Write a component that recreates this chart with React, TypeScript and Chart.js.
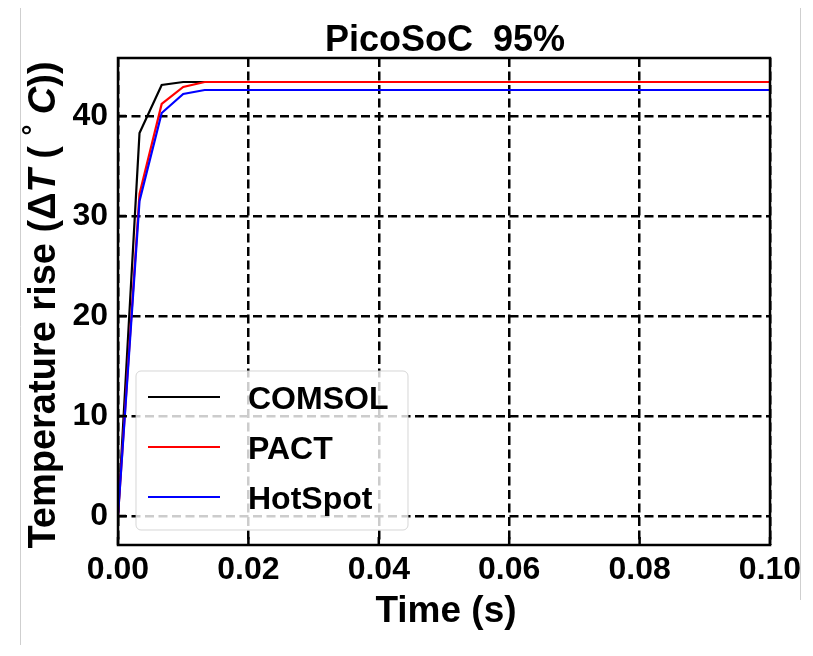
import React, { useEffect, useRef } from "react";
import { Chart, registerables } from "chart.js";

Chart.register(...registerables);

const chartTitle = "PicoSoC  95%";
const xAxisTitle = "Time (s)";
const timeS = [0, 0.0033, 0.0067, 0.01, 0.0133, 0.0167, 0.1];
const comsol = [0, 38.3, 43.1, 43.4, 43.4, 43.4, 43.4];
const pact = [0, 32.2, 41.2, 42.9, 43.4, 43.4, 43.4];
const hotspot = [0, 31.5, 40.3, 42.2, 42.6, 42.6, 42.6];
const seriesNames = ["COMSOL", "PACT", "HotSpot"];
const seriesColors = ["#000000", "#ff0000", "#0000ff"];
const xTicks = [0, 0.02, 0.04, 0.06, 0.08, 0.1];
const yTicks = [0, 10, 20, 30, 40];

const FONT = "'Liberation Sans', Arial, sans-serif";

const decorPlugin = {
  id: "decor",
  afterDraw(chart: any) {
    const { ctx, chartArea: a, scales } = chart;
    ctx.save();
    // page borders (light gray)
    ctx.strokeStyle = "#cfcfcf";
    ctx.lineWidth = 1;
    ctx.beginPath();
    ctx.moveTo(20.5, 8);
    ctx.lineTo(20.5, 645);
    ctx.moveTo(800.5, 8);
    ctx.lineTo(800.5, 600);
    ctx.stroke();

    // frame
    ctx.strokeStyle = "#000";
    ctx.lineWidth = 2.5;
    ctx.strokeRect(a.left, a.top, a.right - a.left, a.bottom - a.top);
    // inward ticks
    ctx.beginPath();
    xTicks.forEach((t) => {
      const x = scales.x.getPixelForValue(t);
      ctx.moveTo(x, a.bottom);
      ctx.lineTo(x, a.bottom - 8);
    });
    yTicks.forEach((t) => {
      const y = scales.y.getPixelForValue(t);
      ctx.moveTo(a.left, y);
      ctx.lineTo(a.left + 8, y);
    });
    ctx.stroke();

    // legend
    const lx = 136, ly = 371, lw = 272, lh = 159, r = 5;
    ctx.beginPath();
    ctx.moveTo(lx + r, ly);
    ctx.arcTo(lx + lw, ly, lx + lw, ly + lh, r);
    ctx.arcTo(lx + lw, ly + lh, lx, ly + lh, r);
    ctx.arcTo(lx, ly + lh, lx, ly, r);
    ctx.arcTo(lx, ly, lx + lw, ly, r);
    ctx.closePath();
    ctx.fillStyle = "rgba(255,255,255,0.8)";
    ctx.fill();
    ctx.strokeStyle = "rgba(204,204,204,0.8)";
    ctx.lineWidth = 1;
    ctx.stroke();
    seriesNames.forEach((name, i) => {
      const y = 397 + i * 50;
      ctx.strokeStyle = seriesColors[i];
      ctx.lineWidth = 2.2;
      ctx.beginPath();
      ctx.moveTo(148, y);
      ctx.lineTo(220, y);
      ctx.stroke();
      ctx.fillStyle = "#000";
      ctx.font = `bold 32px ${FONT}`;
      ctx.textAlign = "left";
      ctx.textBaseline = "alphabetic";
      ctx.fillText(name, 248, y + 12);
    });

    // title
    ctx.fillStyle = "#000";
    ctx.textAlign = "center";
    ctx.textBaseline = "alphabetic";
    ctx.font = `bold 36px ${FONT}`;
    ctx.fillText(chartTitle, 445, 51);
    // x label
    ctx.font = `bold 37px ${FONT}`;
    ctx.fillText(xAxisTitle, 446, 622);

    // y label (mixed fonts), rotated
    const segs = [
      { t: "Temperature rise (", f: `bold 38px ${FONT}`, dy: 0 },
      { t: "\u0394", f: `bold 38px ${FONT}`, dy: 0 },
      { t: "T", f: `italic bold 38px ${FONT}`, dy: 0 },
      { t: " ( ", f: `bold 38px ${FONT}`, dy: 0 },
      { t: "\u00b0", f: `bold 27px ${FONT}`, dy: -13 },
      { t: " ", f: `bold 38px ${FONT}`, dy: 0 },
      { t: "C", f: `italic bold 38px ${FONT}`, dy: 0 },
      { t: "))", f: `bold 38px ${FONT}`, dy: 0 },
    ];
    let total = 0;
    const widths = segs.map((s) => {
      ctx.font = s.f;
      const w = ctx.measureText(s.t).width;
      total += w;
      return w;
    });
    ctx.translate(55, 305);
    ctx.rotate(-Math.PI / 2);
    ctx.textAlign = "left";
    let cx = -total / 2;
    segs.forEach((s, i) => {
      ctx.font = s.f;
      ctx.fillText(s.t, cx, s.dy);
      cx += widths[i];
    });
    ctx.restore();
  },
};

export default function App() {
  const ref = useRef<HTMLCanvasElement>(null);
  useEffect(() => {
    if (!ref.current) return;
    const mk = (ys: number[]) => timeS.map((x, i) => ({ x, y: ys[i] }));
    const all = [comsol, pact, hotspot];
    const chart = new Chart(ref.current, {
      type: "line",
      data: {
        datasets: all.map((ys, i) => ({
          label: seriesNames[i],
          data: mk(ys),
          borderColor: seriesColors[i],
          backgroundColor: seriesColors[i],
          borderWidth: 2.2,
          pointRadius: 0,
          tension: 0,
          fill: false,
          order: 3 - i,
        })),
      },
      options: {
        responsive: false,
        animation: false,
        devicePixelRatio: 1,
        layout: { padding: { top: 58, right: 43, left: 0, bottom: 0 } },
        plugins: { legend: { display: false }, title: { display: false }, tooltip: { enabled: false } },
        scales: {
          x: {
            type: "linear",
            min: 0,
            max: 0.1,
            afterBuildTicks: (s: any) => {
              s.ticks = xTicks.map((v) => ({ value: v }));
            },
            afterFit: (s: any) => {
              s.height = 111;
            },
            ticks: {
              color: "#000",
              font: { family: FONT, size: 32, weight: "bold" },
              padding: 6,
              maxRotation: 0,
              autoSkip: false,
              callback: (v: any) => Number(v).toFixed(2),
            },
            grid: { color: "#000", lineWidth: 2.5, drawTicks: false },
            border: { display: false, dash: [9, 4.5] },
          },
          y: {
            type: "linear",
            min: -2.9,
            max: 45.8,
            afterBuildTicks: (s: any) => {
              s.ticks = yTicks.map((v) => ({ value: v }));
            },
            afterFit: (s: any) => {
              s.width = 118;
            },
            ticks: {
              color: "#000",
              font: { family: FONT, size: 32, weight: "bold" },
              padding: 10,
              autoSkip: false,
              callback: (v: any) => String(v),
            },
            grid: { color: "#000", lineWidth: 2.5, drawTicks: false },
            border: { display: false, dash: [9, 4.5] },
          },
        },
      },
      plugins: [decorPlugin],
    } as any);
    return () => chart.destroy();
  }, []);
  return (
    <div style={{ position: "absolute", left: 0, top: 0, width: 813, height: 656, background: "#fff" }}>
      <canvas ref={ref} width={813} height={656} style={{ display: "block" }} />
    </div>
  );
}
